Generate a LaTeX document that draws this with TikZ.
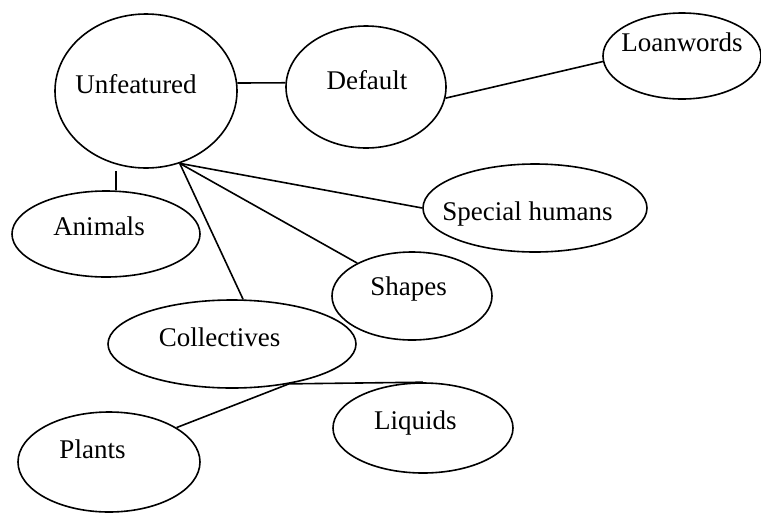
\documentclass[tikz,border=0pt]{standalone}
\usepackage{fontspec}
\setmainfont{Liberation Serif}
\usetikzlibrary{shapes.geometric}
\begin{document}
\begin{tikzpicture}[x=1pt, y=-1pt,
  blob/.style={draw, ellipse, line width=1.6pt, inner sep=0pt},
  word/.style={anchor=base, inner sep=0pt, font=\fontsize{27}{32}\selectfont},
  link/.style={line width=1.6pt}]
\useasboundingbox (0,0) rectangle (761,512);
\begin{scope}
\clip (0,0) rectangle (761,512);
% category ellipses
\node[blob, minimum width=182pt, minimum height=154pt] (unf)   at (146,91)  {};
\node[blob, minimum width=160pt, minimum height=122pt] (def)   at (366,87)  {};
\node[blob, minimum width=158pt, minimum height=86pt]  (loan)  at (682,56)  {};
\node[blob, minimum width=188pt, minimum height=86pt]  (anim)  at (106,234) {};
\node[blob, minimum width=224pt, minimum height=88pt]  (sph)   at (535,208) {};
\node[blob, minimum width=160pt, minimum height=88pt]  (shp)   at (412,296) {};
\node[blob, minimum width=248pt, minimum height=88pt]  (coll)  at (232,344) {};
\node[blob, minimum width=180pt, minimum height=90pt]  (liq)   at (423,428) {};
\node[blob, minimum width=182pt, minimum height=100pt] (plant) at (109,462) {};

% labels
\node[word] (tunf)   at (136,93.3)  {Unfeatured};
\node[word] (tdef)   at (367,89.3)  {Default};
\node[word] (tloan)  at (682,51.7)  {Loanwords};
\node[word] (tanim)  at (99,235)    {Animals};
\node[word] (tsph)   at (527.5,220) {Special humans};
\node[word] (tshp)   at (408.7,295.7) {Shapes};
\node[word] (tcoll)  at (219.5,346) {Collectives};
\node[word] (tliq)   at (415.3,429.3) {Liquids};
\node[word] (tplant) at (92.5,458.3) {Plants};

% connectors
\coordinate (hub)  at (unf.-65);
\coordinate (foot) at (coll.-35);
\draw[link] (unf.5) -- (def.177);
\draw[link] (def.-8.4) -- (loan.184.3);
\draw[link, shorten <=6pt] (anim.77 |- unf.-110) -- (anim.77);
\draw[link] (hub) -- (sph.west);
\draw[link] (hub) -- (shp.149);
\draw[link] (hub) -- (coll.76);
\draw[link] (foot) -- (plant.27);
\draw[link] (foot) -- (liq.north);
\end{scope}
\end{tikzpicture}
\end{document}
